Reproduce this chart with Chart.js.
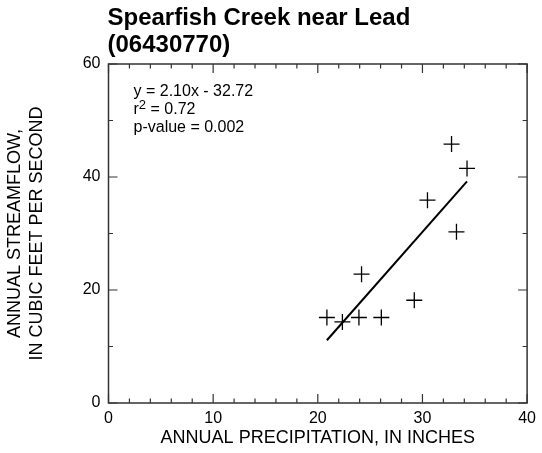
<!DOCTYPE html>
<html>
<head>
<meta charset="utf-8">
<script src="https://cdn.jsdelivr.net/npm/chart.js@4"></script>
<style>
  html, body { margin: 0; padding: 0; background: #fff; }
  #wrap { width: 542px; height: 453px; }
</style>
</head>
<body>
<div id="wrap"><canvas id="mychart" width="542" height="453"></canvas></div>
<script>
// annual precipitation (inches) and annual streamflow (cfs), one pair per year
const precip = [20.87, 22.35, 23.93, 26.07, 24.18, 29.22, 30.48, 33.25, 32.78, 34.26];
const flow = [15.13, 14.35, 15.13, 15.13, 22.8, 18.19, 35.9, 30.3, 45.83, 41.52];

// least-squares fit printed on the chart
const slope = 2.10;
const intercept = -32.72;
const fitText = ['y = 2.10x - 32.72', '= 0.72', 'p-value = 0.002'];

const titleLines = ['Spearfish Creek near Lead', '(06430770)'];
const xTitle = 'ANNUAL PRECIPITATION, IN INCHES';
const yTitle = ['ANNUAL STREAMFLOW,', 'IN CUBIC FEET PER SECOND'];

const fontFam = '"Liberation Sans", Arial, Helvetica, sans-serif';

let xMin = Math.min(...precip);
let xMax = Math.max(...precip);
let fitLine = [
    {x: xMin, y: slope * xMin + intercept},
    {x: xMax, y: slope * xMax + intercept}
];

let points = precip.map((p, i) => ({x: p, y: flow[i]}));

// box around the plot with inward ticks on all four sides, plus title and fit text
const framePlugin = {
    id: 'frame',
    afterDraw(chart) {
        const ctx = chart.ctx;
        const a = chart.chartArea;
        const xs = chart.scales.x;
        const ys = chart.scales.y;
        ctx.save();
        ctx.strokeStyle = '#333';
        ctx.lineWidth = 1.5;
        ctx.strokeRect(a.left, a.top, a.right - a.left, a.bottom - a.top);

        ctx.lineWidth = 1.2;
        ctx.beginPath();
        xs.ticks.forEach(t => {
            let px = xs.getPixelForValue(t.value);
            let len = t.value % 10 === 0 ? 9 : 4.5;
            ctx.moveTo(px, a.bottom); ctx.lineTo(px, a.bottom - len);
            ctx.moveTo(px, a.top); ctx.lineTo(px, a.top + len);
        });
        ys.ticks.forEach(t => {
            let py = ys.getPixelForValue(t.value);
            let len = t.value % 20 === 0 ? 9 : 4.5;
            ctx.moveTo(a.left, py); ctx.lineTo(a.left + len, py);
            ctx.moveTo(a.right, py); ctx.lineTo(a.right - len, py);
        });
        ctx.stroke();

        // title, left aligned with the plot
        ctx.fillStyle = '#000';
        ctx.textAlign = 'left';
        ctx.textBaseline = 'alphabetic';
        ctx.font = 'bold 24px ' + fontFam;
        ctx.fillText(titleLines[0], a.left - 1, 25);
        ctx.fillText(titleLines[1], a.left - 1, 52);

        // regression text
        ctx.font = '16px ' + fontFam;
        let tx = a.left + 25;
        ctx.fillText(fitText[0], tx, 96);
        ctx.fillText('r', tx, 114);
        let rw = ctx.measureText('r').width;
        ctx.font = '13px ' + fontFam;
        ctx.fillText('2', tx + rw, 109);
        let sw = ctx.measureText('2').width;
        ctx.font = '16px ' + fontFam;
        ctx.fillText(' ' + fitText[1], tx + rw + sw, 114);
        ctx.fillText(fitText[2], tx, 132);
        ctx.restore();
    }
};

var ctx = document.getElementById('mychart').getContext('2d');
var chart = new Chart(ctx, {
    type: 'scatter',
    data: {
        datasets: [{
            data: points,
            pointStyle: 'cross',
            pointRadius: 8,
            pointHoverRadius: 8,
            borderColor: '#000',
            borderWidth: 1.3,
            showLine: false
        }, {
            type: 'line',
            data: fitLine,
            borderColor: '#000',
            borderWidth: 2,
            pointRadius: 0,
            fill: false
        }]
    },
    options: {
        responsive: false,
        animation: false,
        events: [],
        layout: { padding: { top: 64, right: 10.5, left: 0, bottom: 0 } },
        plugins: {
            legend: { display: false },
            tooltip: { enabled: false },
            title: { display: false }
        },
        scales: {
            x: {
                type: 'linear',
                min: 0, max: 40,
                afterFit: s => { s.height = 50; },
                grid: { display: false, drawTicks: false },
                border: { display: false },
                ticks: {
                    stepSize: 2,
                    autoSkip: false,
                    maxRotation: 0,
                    padding: 6,
                    color: '#000',
                    font: { family: fontFam, size: 16 },
                    callback: v => (v % 10 === 0 ? v : '')
                },
                title: {
                    display: true,
                    text: xTitle,
                    color: '#000',
                    font: { family: fontFam, size: 18 },
                    padding: { top: 0, bottom: 4 }
                }
            },
            y: {
                type: 'linear',
                min: 0, max: 60,
                afterFit: s => { s.width = 108.5; },
                grid: { display: false, drawTicks: false },
                border: { display: false },
                ticks: {
                    stepSize: 10,
                    autoSkip: false,
                    padding: 8,
                    color: '#000',
                    font: { family: fontFam, size: 16 },
                    callback: v => (v % 20 === 0 ? v : '')
                },
                title: {
                    display: true,
                    text: yTitle,
                    color: '#000',
                    font: { family: fontFam, size: 18, lineHeight: 1.22 },
                    padding: { top: 4, bottom: 0 }
                }
            }
        }
    },
    plugins: [framePlugin]
});
</script>
</body>
</html>
